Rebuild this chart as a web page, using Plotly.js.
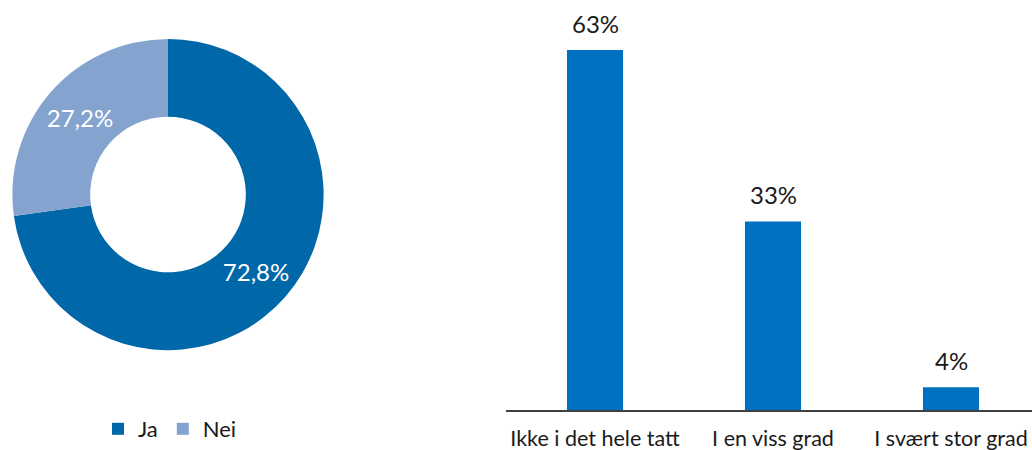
<!DOCTYPE html>
<html><head><meta charset="utf-8">
<script src="https://cdn.plot.ly/plotly-3.0.1.min.js"></script>
<style>html,body{margin:0;padding:0;overflow:hidden;background:#fff}</style>
</head><body>
<div id="chart" style="width:1032px;height:450px"></div>
<script>
const pieLabels = ['Ja', 'Nei'];
const pieValues = [72.8, 27.2];
const barCategories = ['Ikke i det hele tatt', 'I en viss grad', 'I svært stor grad'];
const barValues = [63, 33, 4];
const barLabels = ['63%', '33%', '4%'];

const FONT = 'Lato, "Noto Sans", sans-serif';
const W = 1032, H = 450;
const mT = 10, mB = 39;
const plotH = H - mT - mB;
function fy(px){ return (H - mB - px) / plotH; }

const pie = {
  type: 'pie', labels: pieLabels, values: pieValues,
  hole: 0.5, sort: false, direction: 'clockwise', rotation: 0,
  marker: {colors: ['#0067a9', '#85a3cf'], line: {width: 0}},
  texttemplate: '%{percent:.1%}', textposition: 'inside', insidetextorientation: 'horizontal',
  textfont: {family: FONT, size: 24, color: '#ffffff'},
  domain: {x: [12/W, 324/W], y: [fy(351), fy(39)]},
  hoverinfo: 'none', showlegend: true
};
const bar = {
  type: 'bar', x: barCategories, y: barValues,
  marker: {color: '#0070c0'}, showlegend: false, hoverinfo: 'none',
  xaxis: 'x', yaxis: 'y'
};
const annotations = barCategories.map((c, i) => ({
  x: c, y: barValues[i], xref: 'x', yref: 'y', text: barLabels[i],
  showarrow: false, yanchor: 'bottom', yshift: 10,
  font: {family: FONT, size: 24, color: '#1a1a1a'}
}));
const layout = {
  width: W, height: H,
  margin: {l: 0, r: 0, t: mT, b: mB},
  paper_bgcolor: '#fff', plot_bgcolor: 'rgba(0,0,0,0)',
  separators: ',.',
  font: {family: FONT, color: '#1a1a1a'},
  bargap: 0.685,
  xaxis: {domain: [506/W, 1], range: [-0.5, 2.455], showgrid: false, zeroline: false,
    showline: true, linecolor: '#404040', linewidth: 2, ticks: '', ticklabelstandoff: 8,
    tickfont: {family: FONT, size: 21.5, color: '#1a1a1a'}, fixedrange: true},
  yaxis: {domain: [0, 1], range: [0, 70], visible: false, fixedrange: true},
  legend: {orientation: 'h', x: 170/W, xanchor: 'center', y: fy(430), yanchor: 'middle',
    font: {family: FONT, size: 22, color: '#1a1a1a'}, itemwidth: 30, tracegroupgap: 0},
  annotations: annotations
};
Plotly.newPlot('chart', [bar, pie], layout, {displayModeBar: false, staticPlot: true});
</script>
</body></html>
